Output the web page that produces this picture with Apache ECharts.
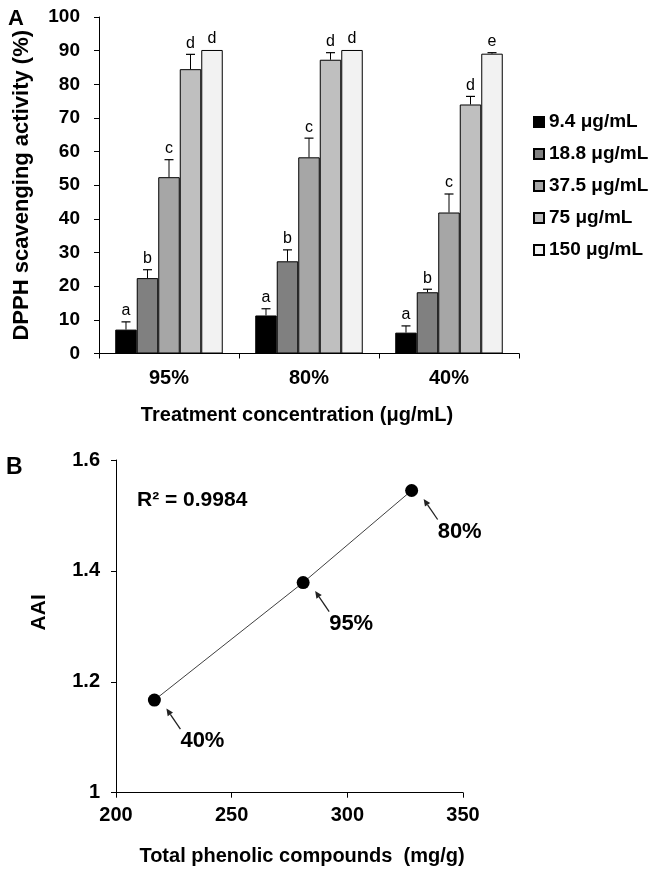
<!DOCTYPE html>
<html>
<head>
<meta charset="utf-8">
<script src="https://cdn.jsdelivr.net/npm/echarts@6/dist/echarts.min.js"></script>
<style>
html,body{margin:0;padding:0;background:#fff;}
#chart{width:651px;height:870px;}
</style>
</head>
<body>
<div id="chart"></div>
<script>
// ---------- Panel A data ----------
const categories = ['95%', '80%', '40%'];
const seriesNames = ['9.4 μg/mL', '18.8 μg/mL', '37.5 μg/mL', '75 μg/mL', '150 μg/mL'];
const dpph_9_4  = [7.1, 11.3, 6.2];
const dpph_18_8 = [22.4, 27.4, 18.2];
const dpph_37_5 = [52.4, 58.3, 41.9];
const dpph_75   = [84.5, 87.3, 74.0];
const dpph_150  = [90.2, 90.2, 89.1];
const err_9_4  = [2.3, 2.0, 2.0];
const err_18_8 = [2.5, 3.4, 0.9];
const err_37_5 = [5.2, 5.7, 5.5];
const err_75   = [4.4, 2.1, 2.4];
const err_150  = [0, 0, 0.3];
const letters_9_4  = ['a', 'a', 'a'];
const letters_18_8 = ['b', 'b', 'b'];
const letters_37_5 = ['c', 'c', 'c'];
const letters_75   = ['d', 'd', 'd'];
const letters_150  = ['d', 'd', 'e'];
const yTicksA = [0, 100, 10];

// ---------- Panel B data ----------
const phenolic = [216.6, 280.9, 327.8];
const aai = [1.167, 1.379, 1.545];
const pointLabels = ['40%', '95%', '80%'];
const r2Text = 'R² = 0.9984';

const values = [dpph_9_4, dpph_18_8, dpph_37_5, dpph_75, dpph_150];
const errors = [err_9_4, err_18_8, err_37_5, err_75, err_150];
const letters = [letters_9_4, letters_18_8, letters_37_5, letters_75, letters_150];
const colors = ['#000000', '#808080', '#a6a6a6', '#bfbfbf', '#f2f2f2'];

const FONT = '"Liberation Sans", Arial, sans-serif';
const BAR_FRAC = 0.1536;

const chart = echarts.init(document.getElementById('chart'), null, {renderer: 'canvas'});

const series = [];
values.forEach((vals, i) => {
  series.push({
    name: seriesNames[i], type: 'bar', xAxisIndex: 0, yAxisIndex: 0,
    data: vals, barWidth: (BAR_FRAC * 100) + '%', barGap: '0%',
    itemStyle: {color: colors[i], borderColor: '#000', borderWidth: 1},
    emphasis: {disabled: true}, animation: false
  });
});
values.forEach((vals, i) => {
  series.push({
    type: 'custom', xAxisIndex: 0, yAxisIndex: 0, z: 5,
    data: vals.map((v, j) => [j, v, errors[i][j]]),
    encode: {x: 0, y: 1},
    animation: false, silent: true,
    renderItem: function (params, api) {
      const cat = api.value(0), v = api.value(1), e = api.value(2);
      const c = api.coord([cat, v]);
      const bandW = api.size([1, 0])[0];
      const w = bandW * BAR_FRAC;
      const x = c[0] + (i - 2) * w;
      const top = api.coord([cat, v + e])[1];
      const children = [];
      if (e > 0) {
        children.push({type: 'line', shape: {x1: x, y1: c[1], x2: x, y2: top}, style: {stroke: '#000', lineWidth: 1}});
        children.push({type: 'line', shape: {x1: x - 4.5, y1: top, x2: x + 4.5, y2: top}, style: {stroke: '#000', lineWidth: 1.2}});
      }
      children.push({type: 'text', x: x, y: top - 3, style: {
        text: letters[i][params.dataIndex], textAlign: 'center', textVerticalAlign: 'bottom',
        font: '16px ' + FONT, fill: '#000'}});
      return {type: 'group', children: children};
    }
  });
});

// Panel B
series.push({
  type: 'line', xAxisIndex: 1, yAxisIndex: 1,
  data: phenolic.map((x, k) => [x, aai[k]]),
  symbol: 'circle', symbolSize: 13,
  itemStyle: {color: '#000'},
  lineStyle: {color: '#404040', width: 1},
  animation: false, silent: true, z: 3
});
series.push({
  type: 'custom', xAxisIndex: 1, yAxisIndex: 1, z: 4,
  data: phenolic.map((x, k) => [x, aai[k]]),
  encode: {x: 0, y: 1}, animation: false, silent: true,
  renderItem: function (params, api) {
    const p = api.coord([api.value(0), api.value(1)]);
    const tip = [p[0] + 12, p[1] + 8.5];
    const tail = [p[0] + 26, p[1] + 29];
    let dx = tip[0] - tail[0], dy = tip[1] - tail[1];
    const len = Math.sqrt(dx * dx + dy * dy); dx /= len; dy /= len;
    const hl = 7, hw = 3.2;
    const base = [tip[0] - dx * hl, tip[1] - dy * hl];
    const nx = -dy, ny = dx;
    return {type: 'group', children: [
      {type: 'line', shape: {x1: tail[0], y1: tail[1], x2: base[0], y2: base[1]}, style: {stroke: '#222', lineWidth: 1.3}},
      {type: 'polygon', shape: {points: [tip, [base[0] + nx * hw, base[1] + ny * hw], [base[0] - nx * hw, base[1] - ny * hw]]}, style: {fill: '#222'}},
      {type: 'text', x: p[0] + 26, y: p[1] + 41, style: {
        text: pointLabels[params.dataIndex], textAlign: 'left', textVerticalAlign: 'middle',
        font: 'bold 22px ' + FONT, fill: '#000'}}
    ]};
  }
});

const option = {
  backgroundColor: '#fff',
  animation: false,
  textStyle: {fontFamily: FONT},
  legend: {
    orient: 'vertical', left: 533, top: 112, padding: 0,
    itemWidth: 10, itemHeight: 10, itemGap: 12,
    icon: 'rect', selectedMode: false,
    data: seriesNames,
    textStyle: {fontSize: 19, fontWeight: 'bold', color: '#000', fontFamily: FONT, lineHeight: 20}
  },
  grid: [
    {left: 99, right: 132, top: 17, bottom: 516.5, containLabel: false},
    {left: 116, right: 188, top: 460, bottom: 77.3, containLabel: false}
  ],
  xAxis: [
    {
      type: 'category', gridIndex: 0, data: categories,
      axisLine: {lineStyle: {color: '#000', width: 1}},
      axisTick: {show: true, length: 5, alignWithLabel: false, lineStyle: {color: '#000'}},
      axisLabel: {fontSize: 20, fontWeight: 'bold', color: '#000', margin: 15, fontFamily: FONT},
      name: 'Treatment concentration (μg/mL)', nameLocation: 'middle', nameGap: 52,
      nameTextStyle: {fontSize: 20, fontWeight: 'bold', color: '#000', fontFamily: FONT, padding: [0, 24, 0, 0]}
    },
    {
      type: 'value', gridIndex: 1, min: 200, max: 350, interval: 50,
      axisLine: {show: true, onZero: false, lineStyle: {color: '#000', width: 1}},
      axisTick: {show: true, length: 5, lineStyle: {color: '#000'}},
      splitLine: {show: false},
      axisLabel: {fontSize: 20, fontWeight: 'bold', color: '#000', margin: 13, fontFamily: FONT},
      name: 'Total phenolic compounds  (mg/g)', nameLocation: 'middle', nameGap: 54,
      nameTextStyle: {fontSize: 20, fontWeight: 'bold', color: '#000', fontFamily: FONT, padding: [0, 0, 0, 25]}
    }
  ],
  yAxis: [
    {
      type: 'value', gridIndex: 0, min: yTicksA[0], max: yTicksA[1], interval: yTicksA[2],
      axisLine: {show: true, lineStyle: {color: '#000', width: 1}},
      axisTick: {show: true, length: 5, lineStyle: {color: '#000'}},
      splitLine: {show: false},
      axisLabel: {fontSize: 19, fontWeight: 'bold', color: '#000', margin: 19, fontFamily: FONT},
      name: 'DPPH scavenging activity (%)', nameLocation: 'middle', nameGap: 66, nameRotate: 90,
      nameTextStyle: {fontSize: 22, fontWeight: 'bold', color: '#000', fontFamily: FONT}
    },
    {
      type: 'value', gridIndex: 1, min: 1, max: 1.6, interval: 0.2,
      axisLine: {show: true, onZero: false, lineStyle: {color: '#000', width: 1}},
      axisTick: {show: true, length: 5, lineStyle: {color: '#000'}},
      splitLine: {show: false},
      axisLabel: {fontSize: 20, fontWeight: 'bold', color: '#000', margin: 16, fontFamily: FONT},
      name: 'AAI', nameLocation: 'middle', nameGap: 66, nameRotate: 90,
      nameTextStyle: {fontSize: 21, fontWeight: 'bold', color: '#000', fontFamily: FONT, padding: [0, 0, 0, 28]}
    }
  ],
  graphic: [
    {type: 'text', left: 8, top: 8, style: {text: 'A', font: 'bold 22px ' + FONT, fill: '#000'}},
    {type: 'text', left: 6, top: 456, style: {text: 'B', font: 'bold 23px ' + FONT, fill: '#000'}},
    {type: 'text', left: 137, top: 490, style: {text: r2Text, font: 'bold 21px ' + FONT, fill: '#000'}}
  ],
  series: series
};
chart.setOption(option);
</script>
</body>
</html>
